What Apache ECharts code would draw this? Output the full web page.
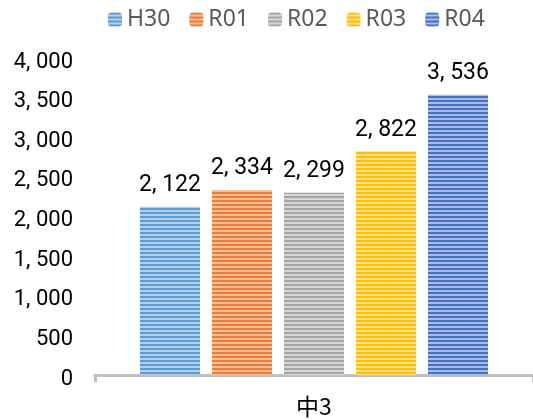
<!DOCTYPE html>
<html>
<head>
<meta charset="utf-8">
<style>
  html, body { margin: 0; padding: 0; background: #fff; }
  #chartDiv { width: 533px; height: 420px; }
</style>
<script src="https://cdn.jsdelivr.net/npm/echarts@6/dist/echarts.min.js"></script>
</head>
<body>
<div id="chartDiv"></div>
<script>
var categories = ['中3'];
var seriesNames = ['H30', 'R01', 'R02', 'R03', 'R04'];
var seriesValues = [[2122], [2334], [2299], [2822], [3536]];
var colors = ['#5B9BD5', '#ED7D31', '#A5A5A5', '#FFC000', '#4472C4'];
var lightColors = ['#B4D0EC', '#F6BE98', '#D6D6D6', '#FFE08A', '#A7BDE6'];

// 横縞模様
function stripe(c, lc) {
    var cv = document.createElement('canvas');
    cv.width = 4;
    cv.height = 4;
    var ctx = cv.getContext('2d');
    ctx.fillStyle = c;
    ctx.fillRect(0, 0, 4, 2);
    ctx.fillStyle = lc;
    ctx.fillRect(0, 2, 4, 2);
    return { image: cv, repeat: 'repeat' };
}

function fmt(v) {
    return String(v).replace(/\B(?=(\d{3})+(?!\d))/g, ', ');
}

var numFont = 'Roboto, sans-serif';

var series = [];
for (var i = 0; i < seriesNames.length; i++) {
    series.push({
        name: seriesNames[i],
        type: 'bar',
        barWidth: 60,
        barGap: '20%',
        data: seriesValues[i],
        itemStyle: { color: stripe(colors[i], lightColors[i]) },
        label: {
            show: true,
            position: 'top',
            distance: 10,
            color: '#000',
            fontFamily: numFont,
            fontSize: 23,
            formatter: function (p) { return fmt(p.value); }
        }
    });
}

var myChart = echarts.init(document.getElementById('chartDiv'));
myChart.setOption({
    animation: false,
    color: colors,
    legend: {
        top: 3,
        left: 103,
        itemWidth: 14,
        itemHeight: 14,
        itemGap: 19,
        textStyle: { color: '#595959', fontSize: 23, fontFamily: '"Noto Sans", sans-serif' },
        data: seriesNames
    },
    grid: { left: 95, right: 0, top: 58, bottom: 45, containLabel: false },
    xAxis: {
        type: 'category',
        data: categories,
        axisLine: { lineStyle: { color: '#C0C0C0', width: 3 } },
        axisTick: { show: true, length: 7, lineStyle: { color: '#C0C0C0', width: 3 } },
        axisLabel: { color: '#000', fontSize: 23, margin: 20, fontFamily: '"Noto Sans CJK JP", sans-serif' }
    },
    yAxis: {
        type: 'value',
        min: 0,
        max: 4000,
        interval: 500,
        splitLine: { show: false },
        axisLine: { show: false },
        axisTick: { show: false },
        axisLabel: {
            color: '#000',
            fontSize: 22,
            margin: 22,
            verticalAlign: 'top',
            lineHeight: 8,
            fontFamily: numFont,
            formatter: function (v) { return fmt(v); }
        }
    },
    series: series
});
</script>
</body>
</html>
